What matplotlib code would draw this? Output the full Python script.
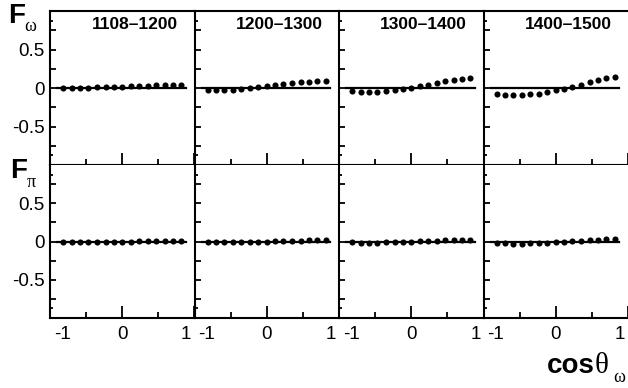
import matplotlib
matplotlib.use("Agg")
import matplotlib.pyplot as plt
import matplotlib.transforms as mtransforms

# ---- data ----
bins = ["1108\u20131200", "1200\u20131300", "1300\u20131400", "1400\u20131500"]
cos_theta = [-0.82, -0.70, -0.59, -0.47, -0.35, -0.23, -0.12, 0.0,
             0.12, 0.23, 0.35, 0.47, 0.59, 0.70, 0.82]

F_omega = [
    [-0.005, -0.003, 0.0, 0.004, 0.007, 0.011, 0.015, 0.019, 0.023, 0.027, 0.031, 0.035, 0.039, 0.043, 0.040],
    [-0.025, -0.030, -0.030, -0.025, -0.015, -0.002, 0.010, 0.022, 0.037, 0.050, 0.063, 0.074, 0.082, 0.087, 0.088],
    [-0.035, -0.050, -0.054, -0.050, -0.038, -0.026, -0.014, 0.003, 0.022, 0.044, 0.070, 0.088, 0.105, 0.122, 0.126],
    [-0.074, -0.087, -0.091, -0.088, -0.083, -0.072, -0.052, -0.032, -0.014, 0.012, 0.044, 0.078, 0.104, 0.124, 0.142],
]
F_pi = [
    [-0.002, -0.002, -0.001, -0.001, 0.0, 0.0, 0.0, 0.0, 0.0, 0.001, 0.001, 0.001, 0.002, 0.002, 0.002],
    [-0.010, -0.012, -0.012, -0.010, -0.008, -0.005, -0.002, 0.0, 0.003, 0.006, 0.009, 0.012, 0.014, 0.015, 0.014],
    [-0.012, -0.016, -0.017, -0.016, -0.013, -0.010, -0.007, -0.003, 0.002, 0.007, 0.012, 0.017, 0.021, 0.024, 0.024],
    [-0.020, -0.025, -0.028, -0.028, -0.026, -0.022, -0.017, -0.010, -0.003, 0.005, 0.013, 0.020, 0.025, 0.028, 0.030],
]
ytick_vals = [-0.75, -0.5, -0.25, 0, 0.25, 0.5, 0.75]
ytick_labels = ["", "-0.5", "", "0", "", "0.5", ""]
xtick_vals = [-1, 0, 1]
xtick_labels = ["-1", "0", "1"]

# ---- figure ----
W, H = 628, 388
fig = plt.figure(figsize=(W / 100, H / 100), dpi=100)
plt.rcParams['font.family'] = ['Liberation Sans', 'DejaVu Sans']

left_px, panel_w = 50, 144.5
row_top = [11, 165]
row_bot = [165, 318]

lw_spine = 1.5
for r in range(2):
    for c in range(4):
        x0 = (left_px + c * panel_w) / W
        y0 = 1 - row_bot[r] / H
        h = (row_bot[r] - row_top[r]) / H
        ax = fig.add_axes([x0, y0, panel_w / W, h])
        ax.set_xlim(-1, 1)
        ax.set_ylim(-1, 1)
        data = F_omega[c] if r == 0 else F_pi[c]
        ax.axhline(0, xmin=0.05, xmax=0.94, color='black', lw=1.6, zorder=2)
        ax.plot(cos_theta, data, 'o', color='black', ms=4.4, mew=0, zorder=3)
        for s in ['left', 'bottom', 'top']:
            ax.spines[s].set_linewidth(lw_spine)
        ax.spines['right'].set_visible(False)
        if r == 1:
            ax.spines['top'].set_visible(False)
        # y ticks
        ax.set_yticks(ytick_vals)
        ax.set_yticks([-0.875, 0.875], minor=True)
        ax.tick_params(axis='y', which='major', direction='in', length=4.2, width=1.3,
                       labelsize=13.5, pad=4, right=False)
        ax.tick_params(axis='y', which='minor', direction='in', length=2.5, width=1.3, right=False)
        if c == 0:
            ax.set_yticklabels(ytick_labels)
        else:
            ax.set_yticklabels([])
        # x ticks
        ax.set_xticks(xtick_vals)
        ax.set_xticks([-0.5, 0.5], minor=True)
        ax.tick_params(axis='x', which='major', direction='in', length=9, width=1.3,
                       labelsize=13.5, pad=6, top=False)
        ax.tick_params(axis='x', which='minor', direction='in', length=4, width=1.3, top=False)
        if r == 1:
            ax.set_xticklabels(xtick_labels)
            labs = ax.get_xticklabels()
            labs[0].set_horizontalalignment('left')
            labs[0].set_transform(labs[0].get_transform() +
                                  mtransforms.ScaledTranslation(4 / 100, 0, fig.dpi_scale_trans))
            labs[2].set_horizontalalignment('right')
            labs[2].set_transform(labs[2].get_transform() +
                                  mtransforms.ScaledTranslation(-3 / 100, 0, fig.dpi_scale_trans))
        else:
            ax.set_xticklabels([])
            ax.text(0.885, 0.96, bins[c], transform=ax.transAxes, ha='right', va='top',
                    fontsize=12.5, fontweight='bold')

# axis labels
def px(x, y):
    return x / W, 1 - y / H

fig.text(*px(8, 23), "F", fontsize=20, fontweight='bold', ha='left', va='baseline')
fig.text(*px(24, 31), "\u03c9", fontsize=13, family=['Liberation Serif', 'DejaVu Serif'],
         ha='left', va='baseline')
fig.text(*px(10, 178), "F", fontsize=20, fontweight='bold', ha='left', va='baseline')
fig.text(*px(27, 187), "\u03c0", fontsize=13, family=['Liberation Serif', 'DejaVu Serif'],
         ha='left', va='baseline')

fig.text(*px(595, 373), "cos", fontsize=20, fontweight='bold', ha='right', va='baseline')
fig.text(*px(595, 373), "\u03b8", fontsize=21, family=['Liberation Serif', 'DejaVu Serif'],
         ha='left', va='baseline')
fig.text(*px(613, 382), "\u03c9", fontsize=13, family=['Liberation Serif', 'DejaVu Serif'],
         ha='left', va='baseline')

fig.savefig("out.png", dpi=100)
